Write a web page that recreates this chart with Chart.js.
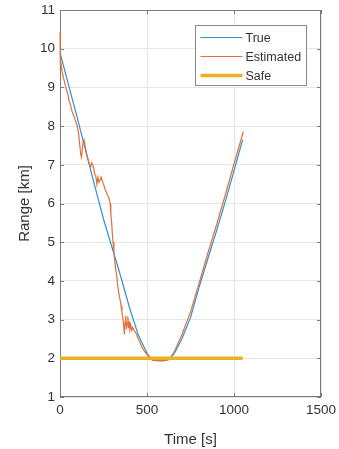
<!DOCTYPE html>
<html>
<head>
<meta charset="utf-8">
<script src="https://cdn.jsdelivr.net/npm/chart.js@4"></script>
<style>
  html, body { margin: 0; padding: 0; background: #fff; }
  #wrap { width: 339px; height: 449px; }
</style>
</head>
<body>
<div id="wrap"><canvas id="chart" width="339" height="449"></canvas></div>
<script>
// series (time in s, range in km)
const trueTime  = [0, 100, 200, 250, 300, 350, 400, 450, 500, 530, 560, 600, 630, 660, 700, 750, 800, 850, 900, 950, 1000, 1050];
const trueRange = [9.9, 8.2, 6.45, 5.6, 4.85, 4.1, 3.3, 2.6, 2.13, 1.96, 1.94, 1.94, 1.97, 2.15, 2.5, 3.05, 3.85, 4.58, 5.3, 6.05, 6.85, 7.65];

const estTime  = [0, 2, 6, 12, 20, 28, 36, 44, 52, 60, 68, 76, 84, 92, 100, 107, 113, 118, 123, 128, 133, 138, 144, 150, 157, 163, 170, 176, 182, 188, 194, 200, 206, 212, 218, 224, 230, 236, 242, 248, 254, 260, 266, 272, 278, 284, 288, 292, 297, 301, 305, 310, 315, 320, 326, 331, 336, 341, 346, 351, 356, 361, 366, 370, 374, 378, 382, 386, 390, 394, 398, 402, 407, 412, 418, 425, 432, 440, 450, 460, 470, 480, 490, 500, 510, 520, 530, 560, 600, 630, 660, 700, 750, 800, 850, 900, 950, 1000, 1054];
const estRange = [10.42, 9.55, 9.62, 9.4, 9.25, 9.1, 8.95, 8.85, 8.65, 8.55, 8.4, 8.3, 8.2, 8.1, 7.98, 7.8, 7.55, 7.3, 7.2, 7.4, 7.6, 7.65, 7.5, 7.35, 7.2, 7.12, 7.0, 6.95, 7.05, 7.0, 6.9, 6.75, 6.7, 6.5, 6.68, 6.55, 6.6, 6.68, 6.6, 6.52, 6.45, 6.35, 6.3, 6.22, 6.18, 6.1, 6.0, 5.75, 5.5, 5.2, 5.0, 4.75, 4.5, 4.3, 4.15, 3.9, 3.75, 3.6, 3.5, 3.35, 3.2, 3.05, 2.85, 2.62, 2.95, 3.1, 2.75, 2.9, 3.08, 2.78, 2.95, 2.75, 2.85, 2.72, 2.8, 2.72, 2.68, 2.62, 2.5, 2.4, 2.3, 2.22, 2.15, 2.1, 2.04, 1.99, 1.96, 1.94, 1.94, 1.98, 2.2, 2.6, 3.2, 3.95, 4.72, 5.45, 6.22, 7.02, 7.86];

const safeTime  = [0, 1050];
const safeRange = [2, 2];

const seriesNames = ["True", "Estimated", "Safe"];
const seriesColors = ["#2f8fd0", "#e0703a", "#edb120"];
const seriesWidths = [1.2, 1.2, 3.5];

const axisColor = "#7a7a7a";
const textColor = "#333333";
const fontFamily = "'Liberation Sans', Arial, sans-serif";

function toPoints(xs, ys) {
  return xs.map((x, i) => ({ x: x, y: ys[i] }));
}

// box around the axes and inward ticks (matlab style), drawn under the lines
const matlabBox = {
  id: "matlabBox",
  beforeDatasetsDraw(chart) {
    const ctx = chart.ctx;
    const a = chart.chartArea;
    const xs = chart.scales.x;
    const ys = chart.scales.y;
    ctx.save();
    ctx.strokeStyle = axisColor;
    ctx.lineWidth = 1;
    ctx.strokeRect(a.left + 0.5, a.top + 0.5, a.right - a.left - 1, a.bottom - a.top - 1);
    ctx.beginPath();
    xs.ticks.forEach(t => {
      const px = Math.round(xs.getPixelForValue(t.value)) + 0.5;
      ctx.moveTo(px, a.bottom); ctx.lineTo(px, a.bottom - 4);
      ctx.moveTo(px, a.top); ctx.lineTo(px, a.top + 4);
    });
    ys.ticks.forEach(t => {
      const py = Math.round(ys.getPixelForValue(t.value)) + 0.5;
      ctx.moveTo(a.left, py); ctx.lineTo(a.left + 4, py);
      ctx.moveTo(a.right, py); ctx.lineTo(a.right - 4, py);
    });
    ctx.stroke();
    ctx.restore();
  },
  // legend inside the plot, top right
  afterDatasetsDraw(chart) {
    const ctx = chart.ctx;
    const a = chart.chartArea;
    const boxW = 111, boxH = 60;
    const bx = a.right - 15 - boxW + 0.5;
    const by = a.top + 15 + 0.5;
    ctx.save();
    ctx.fillStyle = "#fff";
    ctx.fillRect(bx, by, boxW, boxH);
    ctx.strokeStyle = "#8a8a8a";
    ctx.lineWidth = 1;
    ctx.strokeRect(bx, by, boxW, boxH);
    ctx.font = "12.5px " + fontFamily;
    ctx.textBaseline = "middle";
    ctx.textAlign = "left";
    seriesNames.forEach((name, i) => {
      const ly = by + 12 + i * 19;
      ctx.strokeStyle = seriesColors[i];
      ctx.lineWidth = seriesWidths[i];
      ctx.beginPath();
      ctx.moveTo(bx + 5, ly); ctx.lineTo(bx + 47, ly);
      ctx.stroke();
      ctx.fillStyle = textColor;
      ctx.fillText(name, bx + 50, ly + 1);
    });
    ctx.restore();
  }
};

const data = {
  datasets: [
    { label: seriesNames[0], data: toPoints(trueTime, trueRange), borderColor: seriesColors[0], borderWidth: seriesWidths[0], order: 2, clip: 3 },
    { label: seriesNames[1], data: toPoints(estTime, estRange), borderColor: seriesColors[1], borderWidth: seriesWidths[1], order: 1, clip: 3 },
    { label: seriesNames[2], data: toPoints(safeTime, safeRange), borderColor: seriesColors[2], borderWidth: seriesWidths[2], order: 0, clip: 3 }
  ]
};

const config = {
  type: "line",
  data: data,
  plugins: [matlabBox],
  options: {
    responsive: false,
    animation: false,
    elements: { point: { radius: 0 }, line: { tension: 0, fill: false } },
    layout: { padding: { top: 10, right: 18, left: 0, bottom: 0 } },
    plugins: { legend: { display: false }, tooltip: { enabled: false } },
    scales: {
      x: {
        type: "linear",
        min: 0, max: 1500,
        ticks: { stepSize: 500, padding: 5, color: textColor, font: { family: fontFamily, size: 13.5 }, callback: v => String(v) },
        grid: { color: "#e6e6e6", drawTicks: false },
        border: { display: false },
        title: { display: true, text: "Time [s]", color: textColor, padding: { top: 0, bottom: 0 }, font: { family: fontFamily, size: 15 } },
        afterFit: s => { s.height = 52; s.paddingLeft = 0; s.paddingRight = 0; }
      },
      y: {
        type: "linear",
        min: 1, max: 11,
        ticks: { stepSize: 1, padding: 5, color: textColor, font: { family: fontFamily, size: 13.5 }, callback: v => String(v) },
        grid: { color: "#e6e6e6", drawTicks: false },
        border: { display: false },
        title: { display: true, text: "Range [km]", color: textColor, padding: { top: 16, bottom: 0 }, font: { family: fontFamily, size: 15 } },
        afterFit: s => { s.width = 60; s.paddingTop = 0; s.paddingBottom = 0; }
      }
    }
  }
};

new Chart(document.getElementById("chart"), config);
</script>
</body>
</html>
